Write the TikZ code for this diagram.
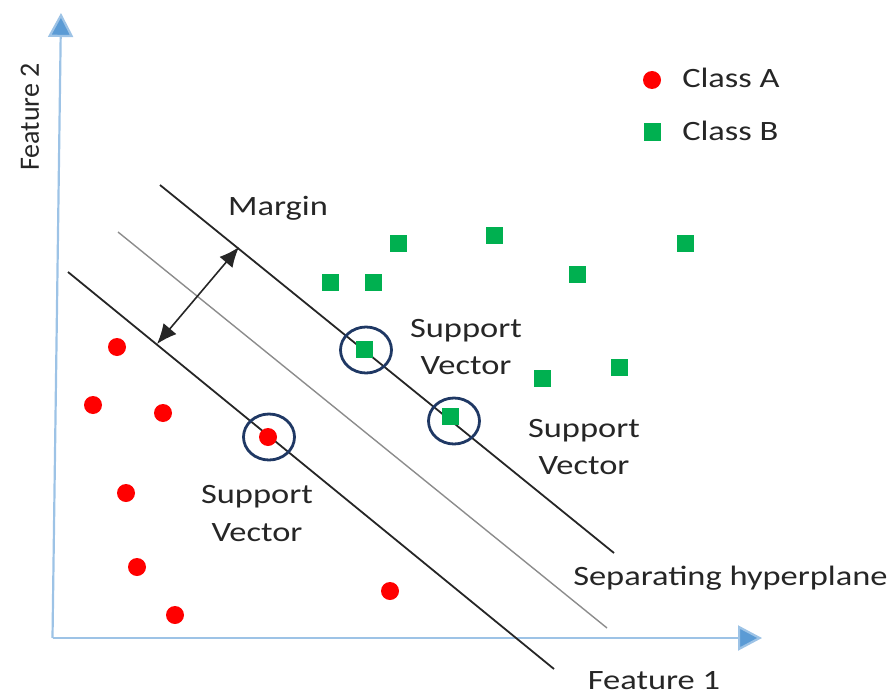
\documentclass[tikz,border=0pt]{standalone}
\usepackage{fontspec}
\setmainfont{Carlito}
\usetikzlibrary{arrows.meta,shapes.geometric}
\definecolor{axisblue}{HTML}{5B9BD5}
\definecolor{axisline}{HTML}{9DC3E6}
\definecolor{ptred}{HTML}{FF0000}
\definecolor{ptgreen}{HTML}{00B050}
\definecolor{svnavy}{HTML}{1F3864}
\definecolor{txtgray}{HTML}{262626}
\tikzset{
  axis/.style={draw=axisline, line width=2.2pt, -{Triangle[length=24pt,width=25pt,fill=axisblue]}},
  classA/.style={circle, fill=ptred, inner sep=0pt, minimum size=18pt},
  classB/.style={rectangle, fill=ptgreen, inner sep=0pt, minimum size=17pt},
  svring/.style={ellipse, draw=svnavy, line width=2.8pt, inner sep=0pt, minimum width=51pt, minimum height=46pt},
  bound/.style={draw=black!85, line width=1.8pt},
  hyper/.style={draw=black!45, line width=1.4pt},
  lbl/.style={text=txtgray, font=\fontsize{28}{34}\selectfont, inner sep=0pt, xscale=1.23, anchor=base},
  lblv/.style={text=txtgray, font=\fontsize{28}{34}\selectfont, inner sep=0pt},
  marginarrow/.style={draw=black!85, line width=1.6pt, {Latex[length=20pt,width=17pt]}-{Latex[length=20pt,width=17pt]}}
}
\begin{document}
\begin{tikzpicture}[x=1pt,y=-1pt]
\useasboundingbox (0,0) rectangle (891,698);
% axes
\coordinate (O) at (52.5,638);
\coordinate (ytip) at (61,13);
\coordinate (xtip) at (762,638);
\draw[axis] (O) -- (ytip);
\draw[axis] (O) -- (xtip);
\node[lblv, rotate=90] (f2) at (30,117) {Feature 2};
\node[lbl] (f1) at (654,689) {Feature 1};
% boundary lines
\coordinate (u1) at (160,185); \coordinate (u2) at (614,553);
\coordinate (m1) at (118,232); \coordinate (m2) at (607,628);
\coordinate (l1) at (68,272);  \coordinate (l2) at (554,669);
\draw[bound] (u1) -- (u2);
\draw[hyper] (m1) -- (m2);
\draw[bound] (l1) -- (l2);
% margin arrow
\coordinate (ma) at (239,247);
\coordinate (mb) at (157,344);
\draw[marginarrow] (mb) -- (ma);
\node[lbl] (margin) at (278,215) {Margin};
% class A points
\node[classA] (a1) at (117,347) {};
\node[classA] (a2) at (93,405) {};
\node[classA] (a3) at (163,413) {};
\node[classA] (a4) at (268,437) {};
\node[classA] (a5) at (126,493) {};
\node[classA] (a6) at (137,567) {};
\node[classA] (a7) at (175,615) {};
\node[classA] (a8) at (390,591) {};
% class B points
\node[classB] (b1) at (398,243) {};
\node[classB] (b2) at (494,235) {};
\node[classB] (b3) at (685,243) {};
\node[classB] (b4) at (330,282) {};
\node[classB] (b5) at (373,282) {};
\node[classB] (b6) at (577,274) {};
\node[classB] (b7) at (364,349) {};
\node[classB] (b8) at (450,416) {};
\node[classB] (b9) at (542,378) {};
\node[classB] (b10) at (619,367) {};
% support vector rings
\node[svring] (s1) at (269,437) {};
\node[svring] (s2) at (366,350) {};
\node[svring] (s3) at (454,421) {};
% labels
\node[lbl] (sv1a) at (466,337) {Support};
\node[lbl] (sv1b) at (466,374) {Vector};
\node[lbl] (sv2a) at (584,437) {Support};
\node[lbl] (sv2b) at (584,474) {Vector};
\node[lbl] (sv3a) at (257,503) {Support};
\node[lbl] (sv3b) at (257,541) {Vector};
\node[lbl, anchor=base west] (sep) at (573,585) {Separating hyperplane};
% legend
\node[classA] (la) at (652,80) {};
\node[lbl, anchor=base west] (lta) at (682,88) {Class A};
\node[classB] (lb) at (652,132) {};
\node[lbl, anchor=base west] (ltb) at (682,141) {Class B};
\end{tikzpicture}
\end{document}
